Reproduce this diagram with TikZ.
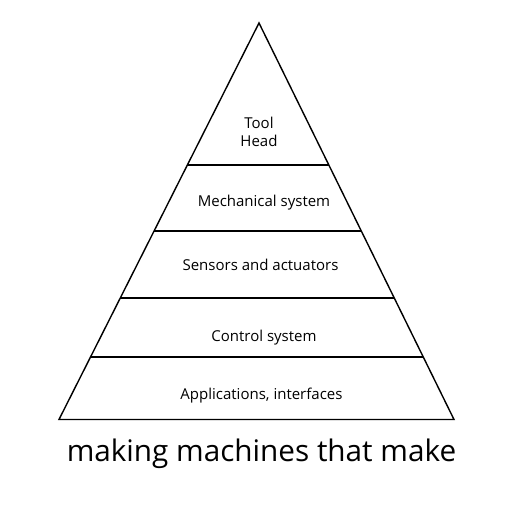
\documentclass[tikz,border=0pt]{standalone}
\usepackage{fontspec}
\setmainfont{Open Sans}
\usetikzlibrary{calc}
\begin{document}
\begin{tikzpicture}[x=1pt,y=-1pt,
  edge/.style={line width=1.4pt,line join=miter},
  lbl/.style={anchor=base,inner sep=0pt,font=\fontsize{15}{18}\selectfont},
  captxt/.style={anchor=base,inner sep=0pt,font=\fontsize{29.7}{34}\selectfont}]
\useasboundingbox (0,0) rectangle (512,508);
\coordinate (apex) at (259,23);
\coordinate (bl) at (59,419.5);
\coordinate (br) at (454,419.5);
\draw[edge] (apex) -- (bl) -- (br) -- cycle;
\foreach \yy in {165,231,298,357}{
  \pgfmathsetmacro{\t}{(\yy-23)/396.5}
  \draw[edge] ($(apex)!\t!(bl)$) -- ($(apex)!\t!(br)$);
}
\node[lbl] (tool) at (259,129) {Tool};
\node[lbl] (head) at (259,147) {Head};
\node[lbl] (mech) at (264,206.5) {Mechanical system};
\node[lbl] (sens) at (260.5,270.5) {Sensors and actuators};
\node[lbl] (ctrl) at (264,341) {Control system};
\node[lbl] (apps) at (261.5,399.5) {Applications, interfaces};
\node[captxt] (title) at (261.5,461) {making machines that make};
\end{tikzpicture}
\end{document}
